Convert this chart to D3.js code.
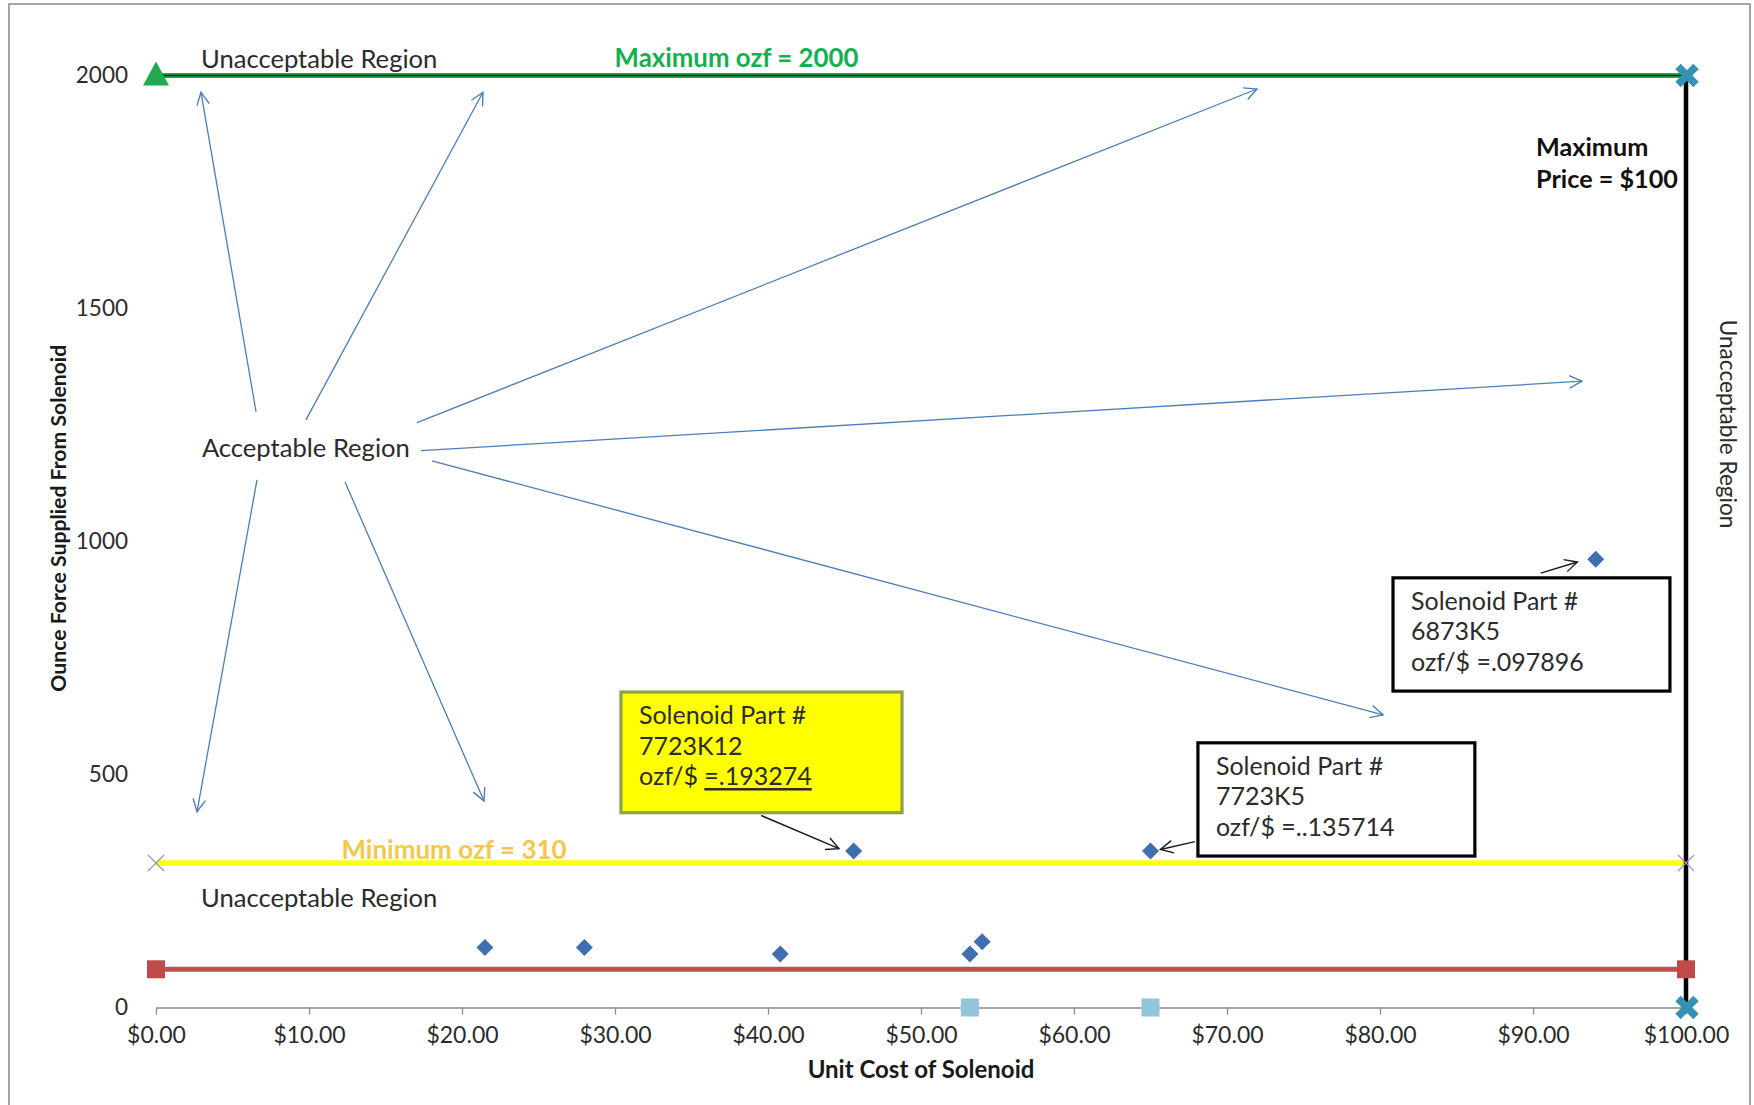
<!DOCTYPE html>
<html>
<head>
<meta charset="utf-8">
<script src="https://cdn.jsdelivr.net/npm/d3@7"></script>
<style>
  html, body { margin: 0; padding: 0; background: #ffffff; }
  svg { display: block; font-family: Lato, "Open Sans", "Liberation Sans", sans-serif; }
</style>
</head>
<body>
<svg id="chart" width="1754" height="1105"></svg>
<script>
// ---- data -------------------------------------------------------------
const costTicks = [0, 10, 20, 30, 40, 50, 60, 70, 80, 90, 100];
const ozfTicks = [0, 500, 1000, 1500, 2000];

// catalogue solenoids: unit cost ($) and ounce force supplied
const solenoidCost = [21.5, 28.0, 40.8, 53.2, 54.0, 45.6, 65.0, 94.1];
const solenoidOzf  = [129, 129, 115, 115, 141, 336, 336, 962];

// reference parts sitting on the cost axis
const refCost = [53.2, 65.0];
const refOzf  = [0, 0];

// constraint lines
const maxOzfCost  = [0, 100];
const maxOzfValue = [2000, 2000];
const maxPriceCost = [100, 100];
const maxPriceOzf  = [2000, 0];
const minOzfCost  = [0, 100];
const minOzfValue = [310, 310];
const baseCost  = [0, 100];
const baseOzf   = [82, 82];

// "Acceptable Region" arrows: [cost0, ozf0, cost1, ozf1]
const regionArrows = [
  [6.54, 1278, 2.94, 1964],
  [9.80, 1261, 21.37, 1964],
  [17.06, 1255, 71.96, 1971],
  [17.32, 1195, 93.20, 1344],
  [18.04, 1173, 80.20, 628],
  [12.35, 1128, 21.44, 443],
  [6.60, 1132, 2.68, 420]
];

// callout boxes for the three best parts
const calloutParts  = ["7723K12", "7723K5", "6873K5"];
const calloutRatios = ["=.193274", "=..135714", "=.097896"];
const calloutBoxCost = [[30.39, 48.76], [68.10, 86.20], [80.85, 98.95]];
const calloutBoxOzf  = [[677, 418], [568, 325], [922, 679]];
const calloutArrows  = [
  [39.55, 412, 44.64, 341],
  [67.90, 356, 65.65, 339],
  [90.50, 932, 92.90, 956]
];

// ---- layout -----------------------------------------------------------
const svg = d3.select("#chart");
const x = d3.scaleLinear().domain([0, 100]).range([156, 1686]);
const y = d3.scaleLinear().domain([0, 2000]).range([1007.5, 75.5]);

const textColor = "#2b2b2b";
const annoSize = 25.6;

// outer frame of the chart object
svg.append("rect")
  .attr("x", 9).attr("y", 4).attr("width", 1741).attr("height", 1120)
  .attr("fill", "none").attr("stroke", "#8f8f8f").attr("stroke-width", 1.6);

// arrowhead markers
const defs = svg.append("defs");
function arrowMarker(id, color) {
  defs.append("marker")
    .attr("id", id)
    .attr("viewBox", "0 0 12 12")
    .attr("refX", 11).attr("refY", 6)
    .attr("markerWidth", 15).attr("markerHeight", 15)
    .attr("markerUnits", "userSpaceOnUse")
    .attr("orient", "auto")
    .append("path")
    .attr("d", "M1,1 L11,6 L1,11")
    .attr("fill", "none")
    .attr("stroke", color)
    .attr("stroke-width", 1.1);
}
arrowMarker("blueHead", "#4a7ebb");
arrowMarker("blackHead", "#1a1a1a");

// ---- axes -------------------------------------------------------------
const xAxis = svg.append("g")
  .attr("transform", `translate(0,${y(0)})`)
  .call(d3.axisBottom(x).tickValues(costTicks).tickFormat(d3.format("$.2f"))
        .tickSize(7).tickSizeOuter(0).tickPadding(12));
xAxis.select(".domain").attr("stroke", "#8a8a8a").attr("stroke-width", 1.3);
xAxis.selectAll(".tick line").attr("stroke", "#8a8a8a").attr("stroke-width", 1.3);
xAxis.selectAll(".tick text")
  .attr("fill", textColor).attr("font-size", 23).attr("font-family", "Lato, sans-serif");

const yAxis = svg.append("g")
  .attr("transform", `translate(${x(0)},0)`)
  .call(d3.axisLeft(y).tickValues(ozfTicks).tickFormat(d3.format("d"))
        .tickSize(0).tickPadding(28));
yAxis.select(".domain").remove();
yAxis.selectAll(".tick text")
  .attr("fill", textColor).attr("font-size", 22.5).attr("font-family", "Lato, sans-serif");

// axis titles
svg.append("text")
  .attr("x", x(50)).attr("y", y(0) + 61)
  .attr("text-anchor", "middle").attr("dominant-baseline", "central")
  .attr("font-weight", "bold").attr("font-size", 24).attr("fill", "#1a1a1a")
  .text("Unit Cost of Solenoid");
svg.append("text")
  .attr("transform", `translate(${x(0) - 98},${y(1050)}) rotate(-90)`)
  .attr("text-anchor", "middle").attr("dominant-baseline", "central")
  .attr("font-weight", "bold").attr("font-size", 21.2).attr("fill", "#1a1a1a")
  .text("Ounce Force Supplied From Solenoid");

// ---- constraint lines ---------------------------------------------------
const line = d3.line().x(d => x(d[0])).y(d => y(d[1]));
const zip = (a, b) => a.map((v, i) => [v, b[i]]);

// minimum ounce force (yellow)
svg.append("path").datum(zip(minOzfCost, minOzfValue))
  .attr("d", line).attr("fill", "none").attr("stroke", "#ffff1a").attr("stroke-width", 5.5);
// lower band (red)
svg.append("path").datum(zip(baseCost, baseOzf))
  .attr("d", line).attr("fill", "none").attr("stroke", "#c0504d").attr("stroke-width", 5);
// maximum price (black vertical)
svg.append("path").datum(zip(maxPriceCost, maxPriceOzf))
  .attr("d", line).attr("fill", "none").attr("stroke", "#000000").attr("stroke-width", 4.5);
// maximum ounce force (green with dark core)
svg.append("path").datum(zip(maxOzfCost, maxOzfValue))
  .attr("d", line).attr("fill", "none").attr("stroke", "#22a64e").attr("stroke-width", 5);
svg.append("path").datum(zip(maxOzfCost, maxOzfValue))
  .attr("d", line).attr("fill", "none").attr("stroke", "#0d2a14").attr("stroke-width", 1.5);

// end markers of the yellow line: thin crosses
svg.selectAll(".minX").data(zip(minOzfCost, minOzfValue)).enter().append("path")
  .attr("transform", d => `translate(${x(d[0])},${y(d[1])})`)
  .attr("d", "M-8,-8L8,8M-8,8L8,-8")
  .attr("stroke", "#9b93b8").attr("stroke-width", 1.2).attr("fill", "none");

// end markers of the red line: squares
svg.selectAll(".baseSq").data(zip(baseCost, baseOzf)).enter().append("rect")
  .attr("x", d => x(d[0]) - 9).attr("y", d => y(d[1]) - 9)
  .attr("width", 18).attr("height", 18).attr("fill", "#be4b48");

// green triangle at the start of the maximum line
svg.append("path")
  .attr("transform", `translate(${x(maxOzfCost[0])},${y(maxOzfValue[0]) - 1})`)
  .attr("d", "M0,-13L13,11L-13,11Z").attr("fill", "#22a94f");

// heavy teal crosses at the ends of the price line
svg.selectAll(".priceX").data(zip(maxPriceCost, maxPriceOzf)).enter().append("path")
  .attr("transform", d => `translate(${x(d[0]) + 1},${y(d[1])})`)
  .attr("d", "M-9,-9L9,9M-9,9L9,-9")
  .attr("stroke", "#3592b3").attr("stroke-width", 7.5).attr("fill", "none");

// reference squares on the axis
svg.selectAll(".ref").data(zip(refCost, refOzf)).enter().append("rect")
  .attr("x", d => x(d[0]) - 9).attr("y", d => y(d[1]) - 9)
  .attr("width", 18).attr("height", 18).attr("fill", "#94c5dc");

// solenoid diamonds
svg.selectAll(".sol").data(zip(solenoidCost, solenoidOzf)).enter().append("path")
  .attr("transform", d => `translate(${x(d[0])},${y(d[1])})`)
  .attr("d", "M0,-8.5L8.5,0L0,8.5L-8.5,0Z").attr("fill", "#3f6fae");

// ---- region arrows ---------------------------------------------------------
svg.selectAll(".regionArrow").data(regionArrows).enter().append("line")
  .attr("x1", d => x(d[0])).attr("y1", d => y(d[1]))
  .attr("x2", d => x(d[2])).attr("y2", d => y(d[3]))
  .attr("stroke", "#4a7ebb").attr("stroke-width", 1.3)
  .attr("marker-end", "url(#blueHead)");

// ---- region labels ---------------------------------------------------------
function label(cx, cy, str, opts = {}) {
  return svg.append("text")
    .attr("x", cx).attr("y", cy)
    .attr("dominant-baseline", "central")
    .attr("text-anchor", opts.anchor || "start")
    .attr("font-size", opts.size || annoSize)
    .attr("font-weight", opts.weight || "normal")
    .attr("fill", opts.color || textColor)
    .text(str);
}
label(x(2.94), y(2037), "Unacceptable Region");
label(x(37.94), y(2040), "Maximum ozf = 2000", { anchor: "middle", weight: "bold", size: 25.8, color: "#14b050" });
label(x(3.0), y(1202), "Acceptable Region");
label(x(19.48), y(340), "Minimum ozf = 310", { anchor: "middle", weight: "bold", size: 26, color: "#f4c84a" });
label(x(2.94), y(237), "Unacceptable Region");
label(x(90.2), y(1848), "Maximum", { weight: "bold", size: 25.2, color: "#111" });
label(x(90.2), y(1780), "Price = $100", { weight: "bold", size: 25.2, color: "#111" });
svg.append("text")
  .attr("transform", `translate(${x(102.75)},${y(1252)}) rotate(90)`)
  .attr("text-anchor", "middle").attr("dominant-baseline", "central")
  .attr("font-size", 22.6).attr("fill", textColor)
  .text("Unacceptable Region");

// ---- callouts ------------------------------------------------------------------
calloutParts.forEach((part, i) => {
  const [c0, c1] = calloutBoxCost[i];
  const [o0, o1] = calloutBoxOzf[i];
  const bx = x(c0), by = y(o0), bw = x(c1) - x(c0), bh = y(o1) - y(o0);
  const highlighted = i === 0;
  svg.append("rect")
    .attr("x", bx).attr("y", by).attr("width", bw).attr("height", bh)
    .attr("fill", highlighted ? "#ffff00" : "#ffffff")
    .attr("stroke", highlighted ? "#8ea14c" : "#000000")
    .attr("stroke-width", 3.2);
  const lines = ["Solenoid Part #", part];
  lines.forEach((t, k) => label(bx + 18, by + 22 + k * 30.5, t, { size: 25 }));
  const last = label(bx + 18, by + 22 + 2 * 30.5, "", { size: 25 });
  last.append("tspan").text("ozf/$ ");
  const ratio = last.append("tspan").text(calloutRatios[i]);
  if (highlighted) ratio.style("text-decoration", "underline");
});

svg.selectAll(".calloutArrow").data(calloutArrows).enter().append("line")
  .attr("x1", d => x(d[0])).attr("y1", d => y(d[1]))
  .attr("x2", d => x(d[2])).attr("y2", d => y(d[3]))
  .attr("stroke", "#1a1a1a").attr("stroke-width", 1.4)
  .attr("marker-end", "url(#blackHead)");
</script>
</body>
</html>
